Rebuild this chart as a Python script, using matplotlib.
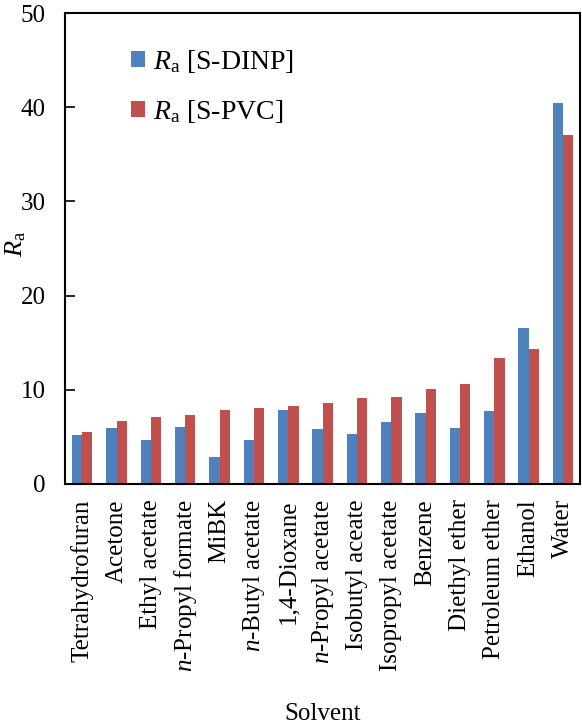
import matplotlib
matplotlib.use("Agg")
import matplotlib.pyplot as plt
import numpy as np

plt.rcParams['font.family'] = ['Liberation Serif', 'DejaVu Serif']
plt.rcParams['mathtext.fontset'] = 'custom'
plt.rcParams['mathtext.rm'] = 'Liberation Serif'
plt.rcParams['mathtext.it'] = 'Liberation Serif:italic'

solvents = ["Tetrahydrofuran", "Acetone", "Ethyl acetate", r"$\mathit{n}$-Propyl formate",
            "MiBK", r"$\mathit{n}$-Butyl acetate", "1,4-Dioxane", r"$\mathit{n}$-Propyl acetate",
            "Isobutyl aceate", "Isopropyl acetate", "Benzene", "Diethyl ether",
            "Petroleum ether", "Ethanol", "Water"]
ra_dinp = [5.15, 5.95, 4.7, 6.1, 2.85, 4.7, 7.9, 5.8, 5.3, 6.6, 7.5, 5.95, 7.8, 16.6, 40.4]
ra_pvc = [5.5, 6.7, 7.15, 7.3, 7.9, 8.05, 8.25, 8.6, 9.15, 9.25, 10.1, 10.65, 13.4, 14.3, 37.1]
yticks = [0, 10, 20, 30, 40, 50]

fs = 18
fig = plt.figure(figsize=(5.82, 7.27), dpi=100)
ax = fig.add_axes([0.1117, 0.3343, 0.885, 0.6477])

x = np.arange(len(solvents))
w = 0.3
ax.bar(x - w/2, ra_dinp, width=w, color='#4F81BD', label=r'$\mathit{R}_\mathrm{a}$ [S-DINP]')
ax.bar(x + w/2, ra_pvc, width=w, color='#C0504D', label=r'$\mathit{R}_\mathrm{a}$ [S-PVC]')

ax.set_xlim(-0.5, len(solvents) - 0.5)
ax.set_ylim(0, 50)
ax.set_yticks(yticks)
ax.set_yticklabels([str(t) for t in yticks], fontsize=fs)
ax.tick_params(axis='y', direction='in', length=7, width=1.2, pad=14)
ax.set_xticks(x)
ax.set_xticklabels(solvents, rotation=90, fontsize=fs)
ax.tick_params(axis='x', length=0, pad=11)
for s in ax.spines.values():
    s.set_linewidth(1.5)

ax.set_ylabel(r'$\mathit{R}_\mathrm{a}$', fontsize=fs + 1)
ax.yaxis.set_label_coords(-0.072, 0.51)
ax.set_xlabel('Solvent', fontsize=fs, labelpad=22)

ax.legend(loc='upper left', bbox_to_anchor=(0.08, 0.98), frameon=False, fontsize=20,
          handlelength=0.5, handleheight=0.5, handletextpad=0.3, labelspacing=0.85)

fig.savefig('out.png', dpi=100)
